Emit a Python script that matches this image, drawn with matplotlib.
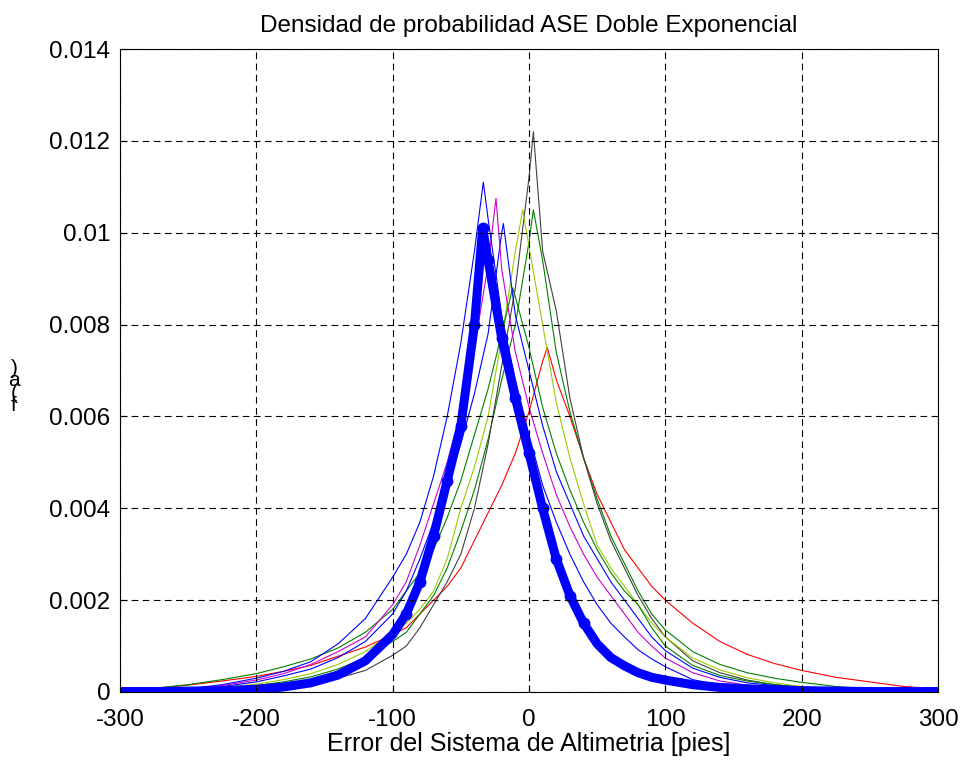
import matplotlib
matplotlib.use("Agg")
import matplotlib.pyplot as plt

plt.rcParams['font.family'] = ['Liberation Sans', 'DejaVu Sans']

# common x grid (pies)
x_grid = [-300, -275, -250, -225, -200, -180, -160, -140, -120, -100,
          -90, -80, -70, -60, -50, -40, -30, -20, -10, 0, 10, 20, 30, 40,
          50, 60, 70, 80, 90, 100, 120, 140, 160, 180, 200, 225, 250, 275, 300]

# density values, one list per curve
blue_a = [0.00001, 0.00003, 0.00007, 0.00016, 0.0003, 0.00045, 0.00066, 0.00105, 0.0016, 0.0025,
          0.0030, 0.0037, 0.0047, 0.0060, 0.0076, 0.0096, 0.0103, 0.0082, 0.0068, 0.0056, 0.0045, 0.0037, 0.0030, 0.0024,
          0.0019, 0.0015, 0.0012, 0.00092, 0.00072, 0.00055, 0.00027, 0.00015, 0.0001, 0.00007, 0.00005, 0.00003, 0.00002, 0.00001, 0.00001]
magenta = [0.00001, 0.00003, 0.00007, 0.00014, 0.00026, 0.0004, 0.0006, 0.00088, 0.0012, 0.0019,
           0.0024, 0.0032, 0.0041, 0.0050, 0.0061, 0.0075, 0.0093, 0.0092, 0.0074, 0.0062, 0.0052, 0.0043, 0.0036, 0.0030,
           0.0025, 0.0021, 0.0017, 0.0013, 0.0010, 0.00074, 0.00042, 0.00024, 0.00015, 0.0001, 0.00007, 0.00004, 0.00002, 0.00001, 0.00001]
blue_b = [0.00001, 0.00003, 0.00006, 0.00012, 0.00022, 0.00035, 0.0005, 0.00075, 0.0011, 0.0017,
          0.0022, 0.0029, 0.0037, 0.0045, 0.0054, 0.0065, 0.0078, 0.0100, 0.0082, 0.0070, 0.0058, 0.0048, 0.0041, 0.0034,
          0.0029, 0.0024, 0.0020, 0.0016, 0.0012, 0.0009, 0.00052, 0.00032, 0.0002, 0.00014, 0.0001, 0.00006, 0.00003, 0.00001, 0.00001]
yellowgreen = [0.00001, 0.00002, 0.00005, 0.0001, 0.00017, 0.00027, 0.0004, 0.0006, 0.00088, 0.0013,
               0.0015, 0.0018, 0.0022, 0.0029, 0.0040, 0.0049, 0.0060, 0.0077, 0.0096, 0.0097, 0.0080, 0.0063, 0.0051, 0.0041,
               0.0032, 0.0027, 0.0023, 0.0019, 0.0015, 0.0012, 0.00074, 0.00048, 0.00031, 0.0002, 0.00012, 0.00007, 0.00003, 0.00002, 0.00001]
green_a = [0.00001, 0.00002, 0.00004, 0.00008, 0.00014, 0.00022, 0.00033, 0.0005, 0.00075, 0.0011,
           0.0013, 0.0017, 0.0021, 0.0027, 0.0035, 0.0044, 0.0055, 0.0068, 0.0080, 0.0098, 0.0094, 0.0074, 0.0061, 0.0051,
           0.0042, 0.0034, 0.0028, 0.0022, 0.0017, 0.00135, 0.00088, 0.0006, 0.00042, 0.0003, 0.00021, 0.00012, 0.00006, 0.00003, 0.00001]
green_b = [0.00004, 0.00008, 0.00016, 0.00027, 0.0004, 0.00055, 0.00072, 0.00096, 0.0013, 0.0018,
           0.0022, 0.0026, 0.0031, 0.0038, 0.0046, 0.0056, 0.0066, 0.0078, 0.0086, 0.0075, 0.0062, 0.0052, 0.0044, 0.0037,
           0.0031, 0.0026, 0.0022, 0.0019, 0.0014, 0.0010, 0.00058, 0.00036, 0.00024, 0.00016, 0.0001, 0.00006, 0.00003, 0.00002, 0.00001]
black = [0.00001, 0.00001, 0.00002, 0.00004, 0.00008, 0.00013, 0.0002, 0.0003, 0.00047, 0.0008,
         0.0010, 0.0014, 0.0019, 0.0024, 0.0030, 0.0040, 0.0054, 0.0071, 0.0088, 0.0112, 0.0096, 0.0083, 0.0064, 0.0051,
         0.0041, 0.0033, 0.0027, 0.0021, 0.0016, 0.0012, 0.00068, 0.00042, 0.00026, 0.00016, 0.0001, 0.00005, 0.00003, 0.00001, 0.00001]
red = [0.00005, 0.00008, 0.00015, 0.00024, 0.00034, 0.00045, 0.00058, 0.00078, 0.00098, 0.00125,
       0.0014, 0.0017, 0.0020, 0.0023, 0.0027, 0.0033, 0.0039, 0.0045, 0.0052, 0.0061, 0.0072, 0.0068, 0.0060, 0.0051,
       0.0043, 0.0037, 0.0031, 0.0027, 0.0023, 0.0020, 0.0015, 0.0011, 0.00082, 0.00062, 0.00047, 0.00032, 0.00022, 0.00012, 0.00007]
thick_blue = [0.00001, 0.00001, 0.00002, 0.00003, 0.00006, 0.00011, 0.0002, 0.00037, 0.00068, 0.00125,
              0.0017, 0.0024, 0.0034, 0.0046, 0.0058, 0.0080, 0.0094, 0.0077, 0.0064, 0.0052, 0.0040, 0.0029, 0.0021, 0.0015,
              0.00105, 0.00075, 0.00057, 0.00042, 0.00032, 0.00026, 0.00016, 0.0001, 0.00007, 0.00005, 0.00003, 0.00002, 0.00001, 0.00001, 0.00001]

# peak of each curve (x, density)
peaks = {
    'blue_a': (-33.5, 0.0111),
    'magenta': (-24.2, 0.01075),
    'blue_b': (-18.8, 0.0102),
    'yellowgreen': (-4.6, 0.0105),
    'green_a': (3.2, 0.0105),
    'green_b': (-12, 0.0088),
    'black': (3.2, 0.0122),
    'red': (13.4, 0.0075),
    'thick_blue': (-34, 0.0101),
}

thin_series = [
    ('red', red, '#ff0000'),
    ('green_a', green_a, '#008000'),
    ('black', black, '#404040'),
    ('yellowgreen', yellowgreen, '#99cc00'),
    ('green_b', green_b, '#008000'),
    ('blue_b', blue_b, '#0000ff'),
    ('magenta', magenta, '#cc00cc'),
    ('blue_a', blue_a, '#0000ff'),
]


def with_peak(name, ys):
    px, py = peaks[name]
    pts = sorted(list(zip(x_grid, ys)) + [(px, py)])
    return [p[0] for p in pts], [p[1] for p in pts]


fig = plt.figure(figsize=(9.64, 7.65), dpi=100)
ax = fig.add_axes([120 / 964, 73 / 765, 818 / 964, 643 / 765])

for name, ys, color in thin_series:
    xs, yv = with_peak(name, ys)
    ax.plot(xs, yv, color=color, linewidth=0.8)

# thick dotted curve: show the dots only on the steep part near the peak
xs, yv = with_peak('thick_blue', thick_blue)
dots = [i for i, x in enumerate(xs) if -90 <= x <= 40]
ax.plot(xs, yv, color='#0000ff', linewidth=6.5, marker='o', markersize=7.5,
        markevery=dots, solid_capstyle='round', solid_joinstyle='round')

ax.set_xlim(-300, 300)
ax.set_ylim(0, 0.014)
ax.set_xticks([-300, -200, -100, 0, 100, 200, 300])
ax.set_xticklabels(['-300', '-200', '-100', '0', '100', '200', '300'])
ax.set_yticks([0, 0.002, 0.004, 0.006, 0.008, 0.01, 0.012, 0.014])
ax.set_yticklabels(['0', '0.002', '0.004', '0.006', '0.008', '0.01', '0.012', '0.014'])
ax.tick_params(direction='in', length=5, labelsize=17.5)
ax.tick_params(axis='y', pad=7)
ax.tick_params(axis='x', pad=12)
ax.grid(True, color='black', linestyle=(0, (6, 4)), linewidth=0.8)
ax.set_axisbelow(False)

ax.set_title('Densidad de probabilidad ASE Doble Exponencial', fontsize=17.5, pad=12)
ax.set_xlabel('Error del Sistema de Altimetria [pies]', fontsize=18, labelpad=1)

# garbled y label as it appears in the source (glyphs stacked on top of each other)
fig.text(14 / 964, 1 - 387 / 765, ')\na\n(\nf', fontsize=15, ha='center', va='center',
         linespacing=0.55)

fig.savefig('out.png', dpi=100)
